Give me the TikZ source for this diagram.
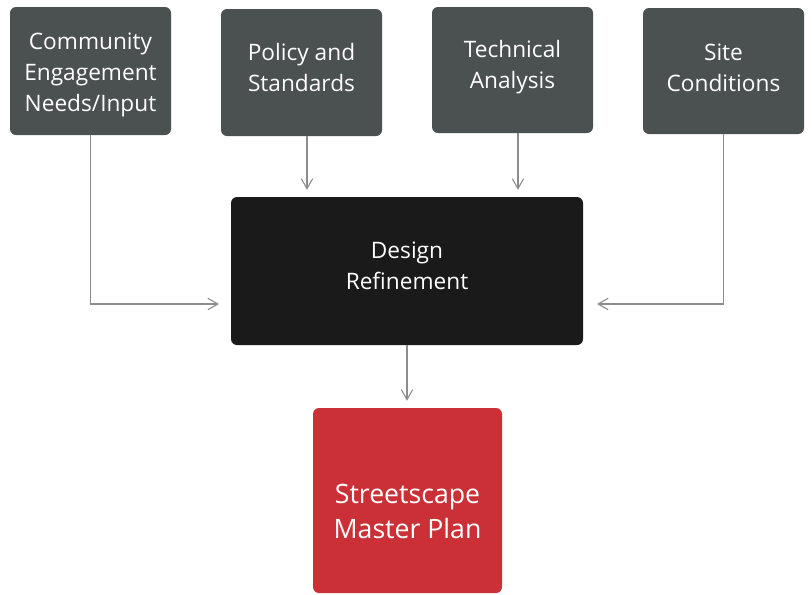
\documentclass[tikz,border=0pt]{standalone}
\usepackage{fontspec}
\setmainfont{Open Sans}
\usetikzlibrary{arrows.meta,calc}
\definecolor{boxgray}{HTML}{4B5050}
\definecolor{boxblack}{HTML}{1A1A1A}
\definecolor{boxred}{HTML}{CC3037}
\definecolor{arrgray}{HTML}{8C8C8C}
\tikzset{
  box/.style={rectangle, rounded corners=4.5pt, inner sep=0pt, draw=none},
  inbox/.style={box, fill=boxgray, minimum width=120.75pt, minimum height=95pt},
  lbl/.style={text=white, align=center, font=\fontsize{17pt}{23.25pt}\selectfont, inner sep=0pt},
  bigl/.style={text=white, align=center, font=\fontsize{20pt}{26.25pt}\selectfont, inner sep=0pt},
  arr/.style={draw=arrgray, line width=0.8pt, -{Straight Barb[length=7.5pt,width=8.5pt,line width=0.8pt]}}
}
\begin{document}
\begin{tikzpicture}[x=0.75pt,y=-0.75pt]
\useasboundingbox[fill=white] (0,0) rectangle (812,594);
% boxes
\node[inbox, minimum height=96pt] (com) at (90.5,71) {};
\node[inbox, minimum height=95.25pt] (pol) at (301.5,72.5) {};
\node[inbox, minimum height=94.5pt] (tec) at (512.5,70) {};
\node[inbox, minimum height=94.5pt] (sit) at (723.5,71) {};
\node[box, fill=boxblack, minimum width=264pt, minimum height=111pt] (des) at (407,271) {};
\node[box, fill=boxred, minimum width=141.75pt, minimum height=138.75pt] (red) at (407.5,500.5) {};
% labels
\node[lbl] (comT) at (90.5,75) {Community\\Engagement\\Needs/Input};
\node[lbl] (polT) at (301.5,67) {Policy and\\Standards};
\node[lbl] (tecT) at (512.5,67.5) {Technical\\Analysis};
\node[lbl] (sitT) at (723.5,67.5) {Site\\Conditions};
\node[lbl] (desT) at (407,266) {Design\\Refinement};
\node[bigl] (redT) at (407.5,511) {Streetscape\\Master Plan};
% connector helpers
\coordinate (comEnd) at (219,304);
\coordinate (sitEnd) at (597,304);
% connectors
\draw[arr] (com.south) |- (comEnd);
\draw[arr] (sit.south) |- (sitEnd);
\draw[arr] ([xshift=4.1pt]pol.south) -- ($([xshift=4.1pt]pol.south |- des.north)+(0,-7)$);
\draw[arr] ([xshift=4.1pt]tec.south) -- ($([xshift=4.1pt]tec.south |- des.north)+(0,-7)$);
\draw[arr] (des.south) -- ($(red.north -| des.south)+(0,-7)$);
\end{tikzpicture}
\end{document}
